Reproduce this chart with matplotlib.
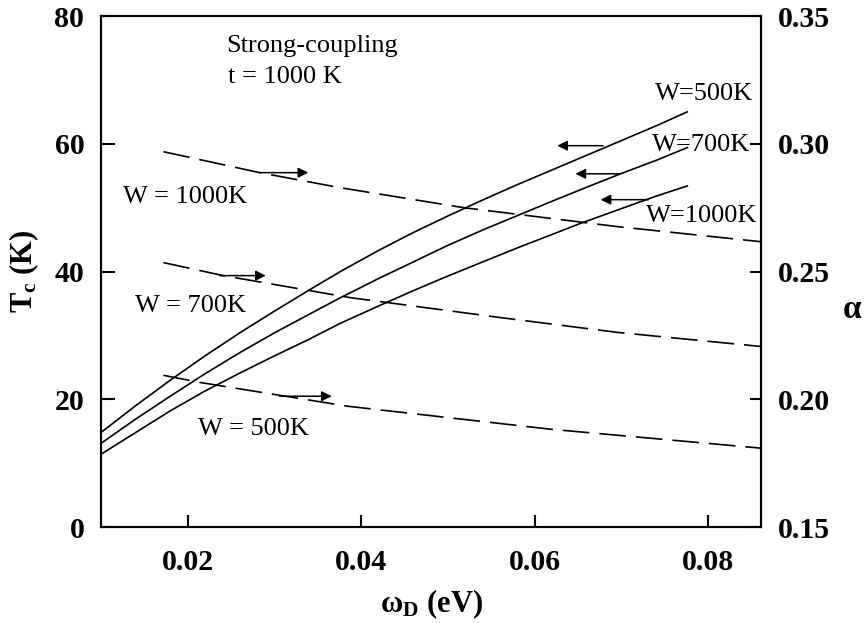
import matplotlib
matplotlib.use("Agg")
import matplotlib.pyplot as plt

plt.rcParams["font.family"] = ["Liberation Serif", "DejaVu Serif"]
plt.rcParams["mathtext.fontset"] = "custom"
plt.rcParams["mathtext.rm"] = "Liberation Serif"
plt.rcParams["mathtext.bf"] = "Liberation Serif:bold"
plt.rcParams["mathtext.it"] = "Liberation Serif:italic"

# ---- Tc curves (left axis), omega_D in eV ----
w500_x = [0.010, 0.014, 0.018, 0.022, 0.026, 0.030, 0.034, 0.0376, 0.042,
          0.046, 0.050, 0.054, 0.058, 0.062, 0.066, 0.070, 0.074, 0.0776]
w500_tc = [14.8, 19.0, 23.0, 26.8, 30.4, 33.8, 37.1, 40.0, 43.3,
           46.1, 48.7, 51.2, 53.6, 55.9, 58.2, 60.5, 62.8, 65.0]
w700_x = [0.010, 0.014, 0.018, 0.022, 0.026, 0.030, 0.034, 0.0376, 0.042,
          0.046, 0.050, 0.054, 0.058, 0.062, 0.066, 0.0699, 0.074, 0.0776]
w700_tc = [13.1, 16.9, 20.5, 24.0, 27.3, 30.4, 33.3, 35.9, 38.9,
           41.5, 44.1, 46.5, 48.75, 51.0, 53.2, 55.3, 57.4, 59.4]
w1000_x = [0.010, 0.014, 0.018, 0.022, 0.026, 0.030, 0.034, 0.0376, 0.042,
           0.046, 0.050, 0.054, 0.058, 0.062, 0.0652, 0.0699, 0.074, 0.0776]
w1000_tc = [11.4, 14.8, 18.2, 21.3, 24.1, 26.8, 29.4, 31.9, 34.6,
            37.0, 39.3, 41.5, 43.7, 45.8, 47.5, 49.8, 51.8, 53.4]

# ---- alpha curves (right axis) ----
a1000_x = [0.0172, 0.0283, 0.0376, 0.0518, 0.0695, 0.086]
a1000 = [0.2969, 0.2887, 0.2828, 0.2750, 0.2676, 0.2617]
a700_x = [0.0172, 0.0241, 0.0387, 0.056, 0.0695, 0.086]
a700 = [0.2535, 0.2484, 0.2398, 0.2320, 0.2262, 0.2207]
a500_x = [0.0172, 0.0214, 0.0384, 0.0618, 0.086]
a500 = [0.2094, 0.2066, 0.1973, 0.1883, 0.1809]

x_ticks = [0.02, 0.04, 0.06, 0.08]
tc_ticks = [0, 20, 40, 60, 80]
alpha_ticks = [0.15, 0.20, 0.25, 0.30, 0.35]

fig = plt.figure(figsize=(8.66, 6.23), dpi=100)
ax = fig.add_axes([0.1166, 0.154, 0.7622, 0.8203])
ax2 = ax.twinx()

lw = 1.2
ax.plot(w500_x, w500_tc, color="k", lw=lw)
ax.plot(w700_x, w700_tc, color="k", lw=lw)
ax.plot(w1000_x, w1000_tc, color="k", lw=lw)

dash = (16, 6)
for xs, ys in [(a1000_x, a1000), (a700_x, a700), (a500_x, a500)]:
    ax2.plot(xs, ys, color="k", lw=lw, dashes=dash)

ax.set_xlim(0.01, 0.0861)
ax.set_ylim(0, 80)
ax2.set_ylim(0.15, 0.35)

ax.set_xticks(x_ticks)
ax.set_xticklabels(["0.02", "0.04", "0.06", "0.08"])
ax.set_yticks(tc_ticks)
ax2.set_yticks(alpha_ticks)
ax2.set_yticklabels(["0.15", "0.20", "0.25", "0.30", "0.35"])

tfs = 21.5
ax.tick_params(axis="x", direction="in", length=9, width=1.5, pad=16, labelsize=tfs)
ax.tick_params(axis="y", direction="in", length=10, width=1.5, pad=12, labelsize=tfs)
ax2.tick_params(axis="y", direction="in", length=8, width=1.5, pad=12, labelsize=tfs)
for a in (ax, ax2):
    for lab in a.get_xticklabels() + a.get_yticklabels():
        lab.set_fontweight("bold")
    for sp in a.spines.values():
        sp.set_linewidth(1.5)

ax.set_xlabel(r"$\mathbf{\omega_D}$ (eV)", fontsize=22, fontweight="bold", labelpad=8)
ax.set_ylabel(r"$\mathbf{T_c}$ (K)", fontsize=22, fontweight="bold", labelpad=10)
ax2.set_ylabel(r"$\mathbf{\alpha}$", fontsize=24, fontweight="bold", rotation=0,
               ha="center", va="center")
ax2.yaxis.set_label_coords(1.138, 0.425)

# ---- labels ----
lfs = 19
ax.text(0.0245, 74.4, "Strong-coupling", fontsize=lfs, va="baseline")
ax.text(0.0246, 69.5, "t = 1000 K", fontsize=lfs, va="baseline")
ax.text(0.0852, 66.8, "W=500K", fontsize=lfs, ha="right", va="baseline")
ax.text(0.08486, 58.9, "W=700K", fontsize=lfs, ha="right", va="baseline")
ax.text(0.08566, 47.8, "W=1000K", fontsize=lfs, ha="right", va="baseline")
ax.text(0.01254, 50.66, "W = 1000K", fontsize=lfs, va="baseline")
ax.text(0.01392, 33.7, "W = 700K", fontsize=lfs, va="baseline")
ax.text(0.02119, 14.4, "W = 500K", fontsize=lfs, va="baseline")

# ---- arrows ----
ap = dict(arrowstyle="-|>", color="k", lw=1.1, mutation_scale=15, shrinkA=0, shrinkB=0)
ax2.annotate("", xy=(0.0339, 0.2887), xytext=(0.0283, 0.2887), arrowprops=ap)
ax2.annotate("", xy=(0.0290, 0.2484), xytext=(0.0237, 0.2484), arrowprops=ap)
ax2.annotate("", xy=(0.0366, 0.2012), xytext=(0.0306, 0.2012), arrowprops=ap)
ax.annotate("", xy=(0.0626, 59.7), xytext=(0.0679, 59.7), arrowprops=ap)
ax.annotate("", xy=(0.0647, 55.3), xytext=(0.0699, 55.3), arrowprops=ap)
ax.annotate("", xy=(0.0676, 51.25), xytext=(0.0731, 51.25), arrowprops=ap)

fig.savefig("out.png", dpi=100)
